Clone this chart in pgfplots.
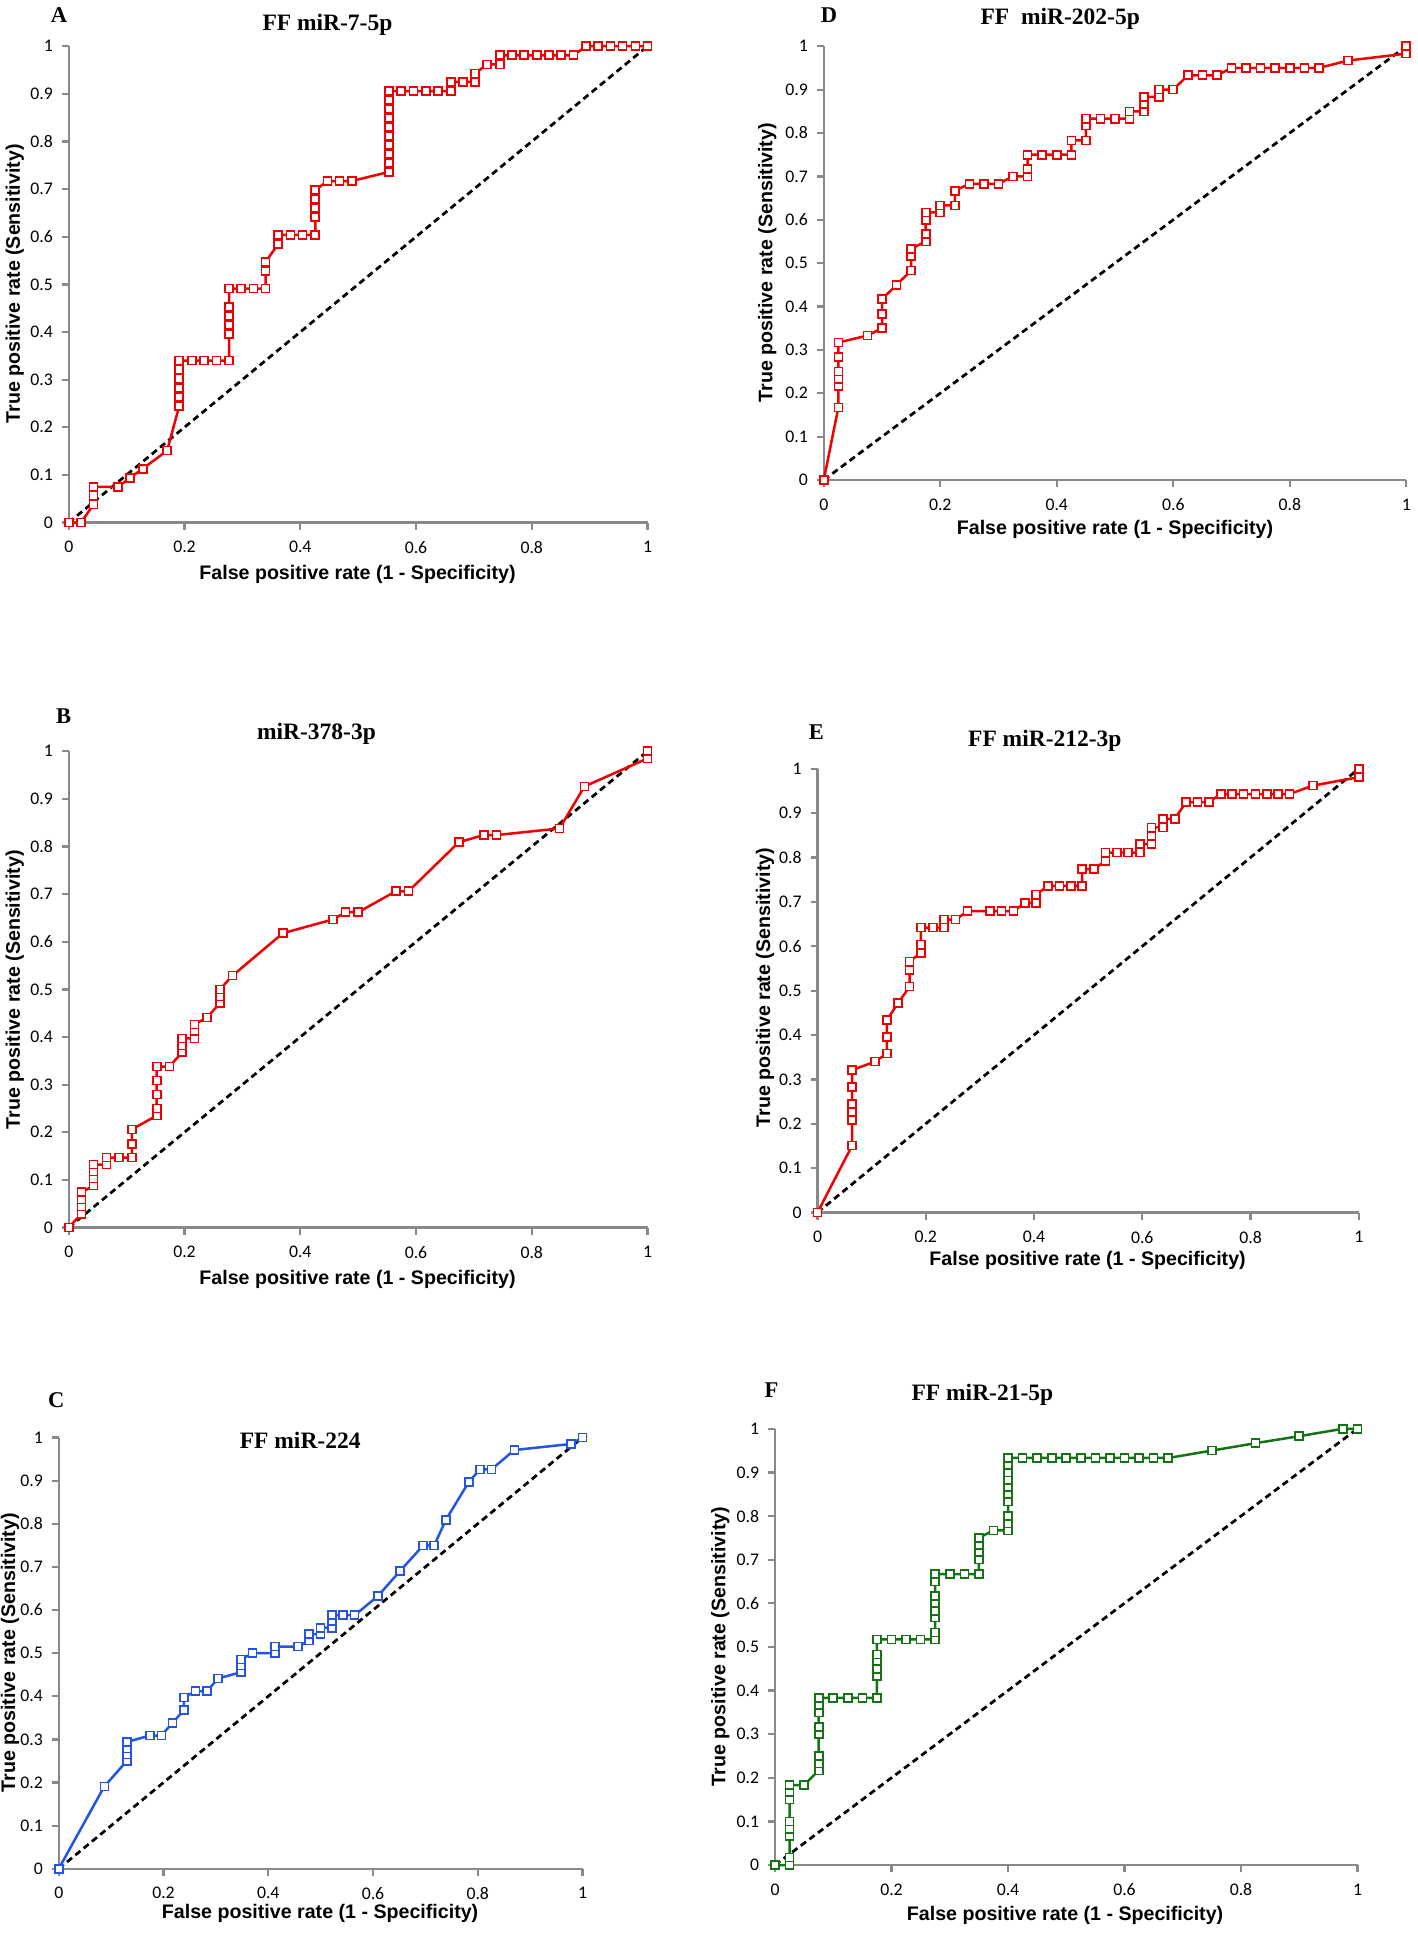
\documentclass[border=0pt]{standalone}
\usepackage{fontspec}
\setmainfont{Liberation Serif}
\newfontfamily\arial{Liberation Sans}
\newfontfamily\calibri{Carlito}
\usepackage{pgfplots}
\pgfplotsset{compat=1.18}
\definecolor{axgray}{RGB}{137,137,137}
\definecolor{rocred}{RGB}{240,0,0}
\definecolor{rocblue}{RGB}{35,85,225}
\definecolor{rocgreen}{RGB}{20,115,20}
\pgfplotsset{
 every axis title/.style={at={(0.5,1)}, anchor=center,
   font=\bfseries\fontsize{9.4}{11}\selectfont},
 roc/.style={
  scale only axis, xmin=0, xmax=1, ymin=0, ymax=1, clip=false,
  axis x line=bottom, axis y line=left,
  axis line style={-, draw=axgray, line width=0.9pt},
  tick style={draw=axgray, line width=0.9pt},
  tick align=outside, major tick length=2.8pt,
  xtick={0,0.2,0.4,0.6,0.8,1}, xticklabels={0,0.2,0.4,0.6,0.8,1},
  ytick={0,0.1,0.2,0.3,0.4,0.5,0.6,0.7,0.8,0.9,1},
  yticklabels={0,0.1,0.2,0.3,0.4,0.5,0.6,0.7,0.8,0.9,1},
  tick label style={font=\calibri\fontsize{7.1}{8.5}\selectfont, text=black},
  xticklabel style={yshift=-1.1pt},
  /pgf/number format/assume math mode=true,
  label style={font=\arial\bfseries\fontsize{7.85}{9}\selectfont},
  xlabel={False positive rate (1 - Specificity)},
  ylabel={True positive rate (Sensitivity)},
 },
 diag/.style={black, line width=1.1pt, dash pattern=on 2.6pt off 1.7pt},
 curve/.style={#1, line width=1pt, mark=square*, mark size=1.6pt,
   mark options={solid, fill=white, draw=#1, line width=0.65pt}},
}
\newcommand{\letterfont}{\bfseries\fontsize{9}{11}\selectfont}
\begin{document}
\begin{tikzpicture}
\useasboundingbox (0,0) rectangle (567pt,-784pt);

% ---------- A ----------
\begin{axis}[roc, at={(27.5pt,-209pt)}, anchor=south west,
  width=231.5pt, height=190.5pt,
  title={FF miR-7-5p},
  title style={at={(axis description cs:0.447,1.045)}},
  xlabel style={at={(axis description cs:0.499,-0.110)}, anchor=center},
  ylabel style={at={(axis description cs:-0.093,0.501)}, anchor=center}]
\addplot[diag] coordinates {(0,0) (1,1)};
\addplot[curve=rocred] coordinates {
(0,0) (0.021,0) (0.043,0.038) (0.043,0.057) (0.043,0.075) (0.085,0.075)
(0.106,0.094) (0.128,0.113) (0.170,0.151) (0.191,0.245) (0.191,0.264)
(0.191,0.283) (0.191,0.302) (0.191,0.321) (0.191,0.340) (0.213,0.340)
(0.234,0.340) (0.255,0.340) (0.277,0.340) (0.277,0.396) (0.277,0.415)
(0.277,0.434) (0.277,0.453) (0.277,0.491) (0.298,0.491) (0.319,0.491)
(0.340,0.491) (0.340,0.528) (0.340,0.547) (0.362,0.585) (0.362,0.604)
(0.383,0.604) (0.404,0.604) (0.426,0.604) (0.426,0.642) (0.426,0.660)
(0.426,0.679) (0.426,0.698) (0.447,0.717) (0.468,0.717) (0.489,0.717)
(0.553,0.736) (0.553,0.755) (0.553,0.774) (0.553,0.792) (0.553,0.811)
(0.553,0.830) (0.553,0.849) (0.553,0.868) (0.553,0.887) (0.553,0.906)
(0.574,0.906) (0.596,0.906) (0.617,0.906) (0.638,0.906) (0.660,0.906)
(0.660,0.925) (0.681,0.925) (0.702,0.925) (0.702,0.943) (0.723,0.962)
(0.745,0.962) (0.745,0.981) (0.766,0.981) (0.787,0.981) (0.809,0.981)
(0.830,0.981) (0.851,0.981) (0.872,0.981) (0.894,1) (0.915,1)
(0.936,1) (0.957,1) (0.979,1) (1,1)};
\node[font=\letterfont] at (axis description cs:-0.017,1.066) {A};
\end{axis}

% ---------- D ----------
\begin{axis}[roc, at={(329.5pt,-192pt)}, anchor=south west,
  width=233pt, height=173.5pt,
  title={FF\ \ miR-202-5p},
  title style={at={(axis description cs:0.406,1.063)}},
  xlabel style={at={(axis description cs:0.5,-0.115)}, anchor=center},
  ylabel style={at={(axis description cs:-0.097,0.501)}, anchor=center}]
\addplot[diag] coordinates {(0,0) (1,1)};
\addplot[curve=rocred] coordinates {
(0,0) (0.025,0.167) (0.025,0.217) (0.025,0.233) (0.025,0.250) (0.025,0.283)
(0.025,0.317) (0.075,0.333) (0.100,0.350) (0.100,0.383) (0.100,0.417)
(0.125,0.450) (0.150,0.483) (0.150,0.517) (0.150,0.533) (0.175,0.550)
(0.175,0.567) (0.175,0.600) (0.175,0.617) (0.200,0.617) (0.200,0.633)
(0.225,0.633) (0.225,0.667) (0.250,0.683) (0.275,0.683) (0.300,0.683)
(0.325,0.700) (0.350,0.700) (0.350,0.717) (0.350,0.750) (0.375,0.750)
(0.400,0.750) (0.425,0.750) (0.425,0.783) (0.450,0.783) (0.450,0.817)
(0.450,0.833) (0.475,0.833) (0.500,0.833) (0.525,0.833) (0.525,0.850)
(0.550,0.850) (0.550,0.867) (0.550,0.883) (0.575,0.883) (0.575,0.900)
(0.600,0.900) (0.625,0.933) (0.650,0.933) (0.675,0.933) (0.700,0.950)
(0.725,0.950) (0.750,0.950) (0.775,0.950) (0.800,0.950) (0.825,0.950)
(0.850,0.950) (0.900,0.967) (1,0.983) (1,1)};
\node[font=\letterfont] at (axis description cs:0.009,1.072) {D};
\end{axis}

% ---------- B ----------
\begin{axis}[roc, at={(27.5pt,-491pt)}, anchor=south west,
  width=231.5pt, height=190.5pt,
  title={miR-378-3p},
  title style={at={(axis description cs:0.428,1.037)}},
  xlabel style={at={(axis description cs:0.499,-0.108)}, anchor=center},
  ylabel style={at={(axis description cs:-0.093,0.499)}, anchor=center}]
\addplot[diag] coordinates {(0,0) (1,1)};
\addplot[curve=rocred] coordinates {
(0,0) (0.022,0.029) (0.022,0.044) (0.022,0.059) (0.022,0.074) (0.043,0.088)
(0.043,0.103) (0.043,0.118) (0.043,0.132) (0.065,0.132) (0.065,0.147)
(0.087,0.147) (0.109,0.147) (0.109,0.176) (0.109,0.206) (0.152,0.235)
(0.152,0.250) (0.152,0.279) (0.152,0.309) (0.152,0.338) (0.174,0.338)
(0.196,0.368) (0.196,0.382) (0.196,0.397) (0.217,0.397) (0.217,0.412)
(0.217,0.426) (0.239,0.441) (0.261,0.471) (0.261,0.485) (0.261,0.500)
(0.283,0.529) (0.370,0.618) (0.457,0.647) (0.478,0.662) (0.500,0.662)
(0.565,0.706) (0.587,0.706) (0.674,0.809) (0.717,0.824) (0.739,0.824)
(0.848,0.838) (0.891,0.926) (1,0.985) (1,1)};
\node[font=\letterfont] at (axis description cs:-0.009,1.073) {B};
\end{axis}

% ---------- E ----------
\begin{axis}[roc, at={(327pt,-485pt)}, anchor=south west,
  width=216.5pt, height=177.5pt,
  title={FF miR-212-3p},
  title style={at={(axis description cs:0.420,1.062)}},
  xlabel style={at={(axis description cs:0.499,-0.107)}, anchor=center},
  ylabel style={at={(axis description cs:-0.097,0.507)}, anchor=center}]
\addplot[diag] coordinates {(0,0) (1,1)};
\addplot[curve=rocred] coordinates {
(0,0) (0.064,0.151) (0.064,0.208) (0.064,0.226) (0.064,0.245) (0.064,0.283)
(0.064,0.321) (0.106,0.340) (0.128,0.358) (0.128,0.396) (0.128,0.434)
(0.149,0.472) (0.170,0.509) (0.170,0.547) (0.170,0.566) (0.191,0.585)
(0.191,0.604) (0.191,0.642) (0.213,0.642) (0.234,0.642) (0.234,0.660)
(0.255,0.660) (0.277,0.679) (0.319,0.679) (0.340,0.679) (0.362,0.679)
(0.383,0.698) (0.404,0.698) (0.404,0.717) (0.426,0.736) (0.447,0.736)
(0.468,0.736) (0.489,0.736) (0.489,0.774) (0.511,0.774) (0.532,0.792)
(0.532,0.811) (0.553,0.811) (0.574,0.811) (0.596,0.811) (0.596,0.830)
(0.617,0.830) (0.617,0.849) (0.617,0.868) (0.638,0.868) (0.638,0.887)
(0.660,0.887) (0.681,0.925) (0.702,0.925) (0.723,0.925) (0.745,0.943)
(0.766,0.943) (0.787,0.943) (0.809,0.943) (0.830,0.943) (0.851,0.943)
(0.872,0.943) (0.915,0.962) (1,0.981) (1,1)};
\node[font=\letterfont] at (axis description cs:-0.002,1.082) {E};
\end{axis}

% ---------- C ----------
\begin{axis}[roc, at={(23.5pt,-747.5pt)}, anchor=south west,
  width=209.5pt, height=172.5pt,
  title={FF miR-224},
  title style={at={(axis description cs:0.461,0.994)}},
  xlabel style={at={(axis description cs:0.499,-0.104)}, anchor=center},
  ylabel style={at={(axis description cs:-0.093,0.501)}, anchor=center}]
\addplot[diag] coordinates {(0,0) (1,1)};
\addplot[curve=rocblue] coordinates {
(0,0) (0.087,0.191) (0.130,0.250) (0.130,0.265) (0.130,0.279) (0.130,0.294)
(0.174,0.309) (0.196,0.309) (0.217,0.338) (0.239,0.368) (0.239,0.397)
(0.261,0.412) (0.283,0.412) (0.304,0.441) (0.348,0.456) (0.348,0.471)
(0.348,0.485) (0.370,0.500) (0.413,0.500) (0.413,0.515) (0.457,0.515)
(0.478,0.529) (0.478,0.544) (0.500,0.544) (0.500,0.559) (0.522,0.559)
(0.522,0.574) (0.522,0.588) (0.543,0.588) (0.565,0.588) (0.609,0.632)
(0.652,0.691) (0.696,0.750) (0.717,0.750) (0.739,0.809) (0.783,0.897)
(0.804,0.926) (0.826,0.926) (0.870,0.971) (0.978,0.985) (1,1)};
\node[font=\letterfont] at (axis description cs:-0.005,1.087) {C};
\end{axis}

% ---------- F ----------
\begin{axis}[roc, at={(310pt,-746pt)}, anchor=south west,
  width=233pt, height=174.5pt,
  title={FF miR-21-5p},
  title style={at={(axis description cs:0.356,1.077)}},
  xlabel style={at={(axis description cs:0.498,-0.115)}, anchor=center},
  ylabel style={at={(axis description cs:-0.094,0.501)}, anchor=center}]
\addplot[diag] coordinates {(0,0) (1,1)};
\addplot[curve=rocgreen] coordinates {
(0,0) (0.025,0) (0.025,0.017) (0.025,0.067) (0.025,0.083) (0.025,0.100)
(0.025,0.150) (0.025,0.167) (0.025,0.183) (0.050,0.183) (0.075,0.217)
(0.075,0.233) (0.075,0.250) (0.075,0.300) (0.075,0.317) (0.075,0.350)
(0.075,0.367) (0.075,0.383) (0.100,0.383) (0.125,0.383) (0.150,0.383)
(0.175,0.383) (0.175,0.433) (0.175,0.450) (0.175,0.467) (0.175,0.483)
(0.175,0.517) (0.200,0.517) (0.225,0.517) (0.250,0.517) (0.275,0.517)
(0.275,0.533) (0.275,0.567) (0.275,0.583) (0.275,0.600) (0.275,0.617)
(0.275,0.650) (0.275,0.667) (0.300,0.667) (0.325,0.667) (0.350,0.667)
(0.350,0.700) (0.350,0.717) (0.350,0.733) (0.350,0.750) (0.375,0.767)
(0.400,0.767) (0.400,0.783) (0.400,0.800) (0.400,0.833) (0.400,0.850)
(0.400,0.867) (0.400,0.883) (0.400,0.900) (0.400,0.917) (0.400,0.933)
(0.425,0.933) (0.450,0.933) (0.475,0.933) (0.500,0.933) (0.525,0.933)
(0.550,0.933) (0.575,0.933) (0.600,0.933) (0.625,0.933) (0.650,0.933)
(0.675,0.933) (0.750,0.950) (0.825,0.967) (0.900,0.983) (0.975,1) (1,1)};
\node[font=\letterfont] at (axis description cs:-0.006,1.089) {F};
\end{axis}
\end{tikzpicture}
\end{document}
